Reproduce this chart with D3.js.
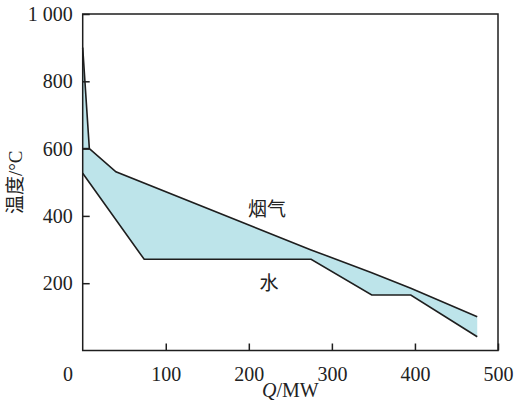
<!DOCTYPE html>
<html>
<head>
<meta charset="utf-8">
<script src="https://cdn.jsdelivr.net/npm/d3@7"></script>
<style>
    body { margin: 0; background: #fff; }
    text { font-family: "Liberation Serif", "DejaVu Serif", serif; fill: #222; }
    .cjk { font-family: "Noto Sans CJK SC", sans-serif; }
</style>
</head>
<body>
<svg id="chart" width="515" height="405"></svg>
<script>
// flue gas (烟气) curve: Q in MW, T in °C
var gasQ = [0, 8, 40, 275, 348, 395, 475],
    gasT = [900, 600, 531, 299, 231, 185, 100];

// water (水) curve
var waterQ = [0, 74, 275, 348, 395, 475],
    waterT = [527, 271, 271, 165, 165, 41];

// short horizontal step at 600 °C
var stepQ = [0, 8],
    stepT = [600, 600];

var xTicks = [100, 200, 300, 400, 500],
    yTicks = [200, 400, 600, 800, 1000],
    yTickLabels = ['200', '400', '600', '800', '1 000'];

var svg = d3.select('#chart'),
    plotL = 82.7,
    plotR = 498,
    plotT = 14,
    plotB = 350.5,
    x = d3.scaleLinear().domain([0, 500]).range([plotL, plotR]),
    y = d3.scaleLinear().domain([0, 1000]).range([plotB, plotT]),
    ink = '#1e1e1e';

function pts(qs, ts) {
    return qs.map(function (q, i) { return [q, ts[i]]; });
}

var line = d3.line()
    .x(function (d) { return x(d[0]); })
    .y(function (d) { return y(d[1]); });

var gas = pts(gasQ, gasT),
    water = pts(waterQ, waterT),
    band = gas.concat(water.slice().reverse());

// filled band between the two curves
svg.append('path')
    .attr('d', line(band) + 'Z')
    .attr('fill', '#bde4ea')
    .attr('stroke', 'none');

// frame
svg.append('rect')
    .attr('x', plotL).attr('y', plotT)
    .attr('width', plotR - plotL).attr('height', plotB - plotT)
    .attr('fill', 'none')
    .attr('stroke', ink)
    .attr('stroke-width', 1.5);

// axes, ticks pointing inwards
var xAxis = d3.axisBottom(x).tickValues(xTicks).tickSizeInner(-7).tickSizeOuter(0).tickPadding(16);
var gx = svg.append('g').attr('transform', 'translate(0,' + plotB + ')').call(xAxis);

var yAxis = d3.axisLeft(y).tickValues(yTicks).tickSizeInner(-7).tickSizeOuter(0).tickPadding(10)
    .tickFormat(function (d, i) { return yTickLabels[i]; });
var gy = svg.append('g').attr('transform', 'translate(' + plotL + ',0)').call(yAxis);

[gx, gy].forEach(function (g) {
    g.attr('font-family', null).attr('font-size', null);
    g.select('.domain').remove();
    g.selectAll('line').attr('stroke', ink).attr('stroke-width', 1.5);
    g.selectAll('text').attr('font-size', 20).attr('fill', ink);
});
gx.selectAll('text').attr('dy', '0.71em');

// shared origin label
svg.append('text')
    .attr('x', 68).attr('y', 381)
    .attr('text-anchor', 'middle')
    .attr('font-size', 20)
    .text('0');

// curves
[gas, water, pts(stepQ, stepT)].forEach(function (d) {
    svg.append('path')
        .attr('d', line(d))
        .attr('fill', 'none')
        .attr('stroke', ink)
        .attr('stroke-width', 1.6)
        .attr('stroke-linejoin', 'miter');
});

// curve labels
svg.append('text').attr('class', 'cjk')
    .attr('x', 267).attr('y', 216)
    .attr('text-anchor', 'middle')
    .attr('font-size', 19)
    .text('烟气');
svg.append('text').attr('class', 'cjk')
    .attr('x', 269).attr('y', 290)
    .attr('text-anchor', 'middle')
    .attr('font-size', 19)
    .text('水');

// axis titles
var xt = svg.append('text')
    .attr('x', (plotL + plotR) / 2).attr('y', 397)
    .attr('text-anchor', 'middle')
    .attr('font-size', 20);
xt.append('tspan').attr('font-style', 'italic').text('Q');
xt.append('tspan').text('/MW');

var yt = svg.append('text')
    .attr('transform', 'translate(22,' + ((plotT + plotB) / 2) + ') rotate(-90)')
    .attr('text-anchor', 'middle')
    .attr('font-size', 19);
yt.append('tspan').attr('class', 'cjk').text('温度');
yt.append('tspan').text('/°C');
</script>
</body>
</html>
